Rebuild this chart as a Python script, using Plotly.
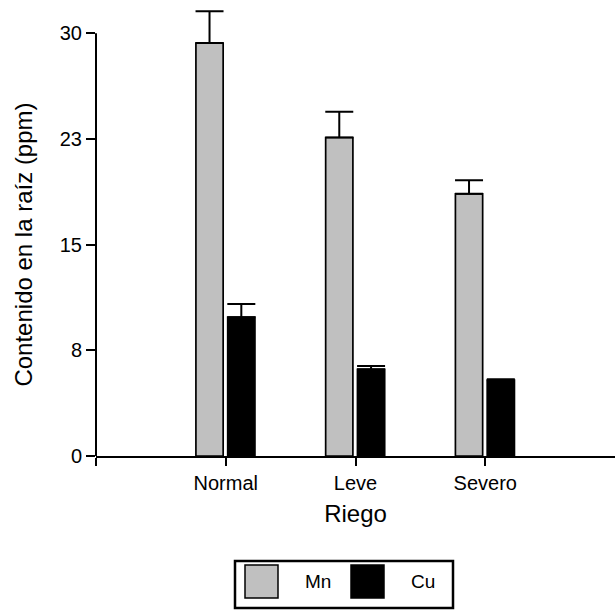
import plotly.graph_objects as go

# ---- data ----
categories = ["Normal", "Leve", "Severo"]
mn_values = [29.3, 22.6, 18.6]
mn_errors = [2.25, 1.82, 0.97]
cu_values = [9.85, 6.15, 5.38]
cu_errors = [0.94, 0.24, 0.06]
y_tickvals = [0, 7.5, 15, 22.5, 30]
y_ticktext = ["0", "8", "15", "23", "30"]
series_names = ["Mn", "Cu"]

x_pos = [i + 1 for i in range(len(categories))]

FONT = "Liberation Sans, Arial, sans-serif"
W, H = 615, 610
ML, MR, MT, MB = 96, 0, 5, 154
Y_MAX = 32.0

fig = go.Figure()
fig.add_trace(go.Bar(
    x=x_pos, y=mn_values, name=series_names[0],
    width=0.21, offset=-0.23,
    marker=dict(color="#c0c0c0", line=dict(color="black", width=1.7)),
    error_y=dict(type="data", array=mn_errors, arrayminus=[0]*3, symmetric=False,
                 color="black", thickness=2, width=14),
    cliponaxis=False, showlegend=False,
))
fig.add_trace(go.Bar(
    x=x_pos, y=cu_values, name=series_names[1],
    width=0.21, offset=0.015,
    marker=dict(color="black", line=dict(color="black", width=1.7)),
    error_y=dict(type="data", array=cu_errors, arrayminus=[0]*3, symmetric=False,
                 color="black", thickness=2, width=14),
    cliponaxis=False, showlegend=False,
))

# manual legend (pixel -> paper helpers)
pw, ph = W - ML - MR, H - MT - MB
def px(x):
    return (x - ML) / pw
def py(y):
    return (H - MB - y) / ph

shapes = [
    # y-axis line only up to the top tick
    dict(type="line", xref="paper", yref="y", x0=0, x1=0, y0=0, y1=y_tickvals[-1],
         line=dict(color="black", width=2)),
    dict(type="rect", xref="paper", yref="paper", x0=px(235), x1=px(453), y0=py(608), y1=py(561),
         line=dict(color="black", width=2.5), fillcolor="white"),
    dict(type="rect", xref="paper", yref="paper", x0=px(245), x1=px(278), y0=py(598), y1=py(565),
         line=dict(color="black", width=1.5), fillcolor="#c0c0c0"),
    dict(type="rect", xref="paper", yref="paper", x0=px(351), x1=px(384), y0=py(598), y1=py(565),
         line=dict(color="black", width=1.5), fillcolor="black"),
]
annotations = [
    dict(text=series_names[0], xref="paper", yref="paper", x=px(318), y=py(581),
         showarrow=False, xanchor="center", yanchor="middle", font=dict(size=19, color="black", family=FONT)),
    dict(text=series_names[1], xref="paper", yref="paper", x=px(423), y=py(581),
         showarrow=False, xanchor="center", yanchor="middle", font=dict(size=19, color="black", family=FONT)),
    dict(text="Contenido en la raíz (ppm)", xref="paper", yref="y", x=px(24), y=15,
         textangle=-90, showarrow=False, xanchor="center", yanchor="middle",
         font=dict(size=24, color="black", family=FONT)),
]

fig.update_layout(
    width=W, height=H,
    margin=dict(l=ML, r=MR, t=MT, b=MB, pad=0),
    paper_bgcolor="white", plot_bgcolor="white",
    font=dict(family=FONT, color="black"),
    barmode="overlay",
    shapes=shapes, annotations=annotations,
    xaxis=dict(
        range=[0, 4], tickmode="array", tickvals=[0] + x_pos, ticktext=[""] + categories,
        showline=True, linecolor="black", linewidth=2, ticks="outside", ticklen=8,
        tickwidth=2, tickcolor="black", showgrid=False, zeroline=False,
        tickfont=dict(size=20, color="black"),
        title=dict(text="Riego", font=dict(size=24, color="black"), standoff=12),
    ),
    yaxis=dict(
        range=[0, Y_MAX], tickmode="array", tickvals=y_tickvals, ticktext=y_ticktext,
        showline=False, ticks="outside", ticklen=9,
        tickwidth=2, tickcolor="black", showgrid=False, zeroline=False,
        tickfont=dict(size=20, color="black"),
    ),
)

fig.write_html("out.html")
